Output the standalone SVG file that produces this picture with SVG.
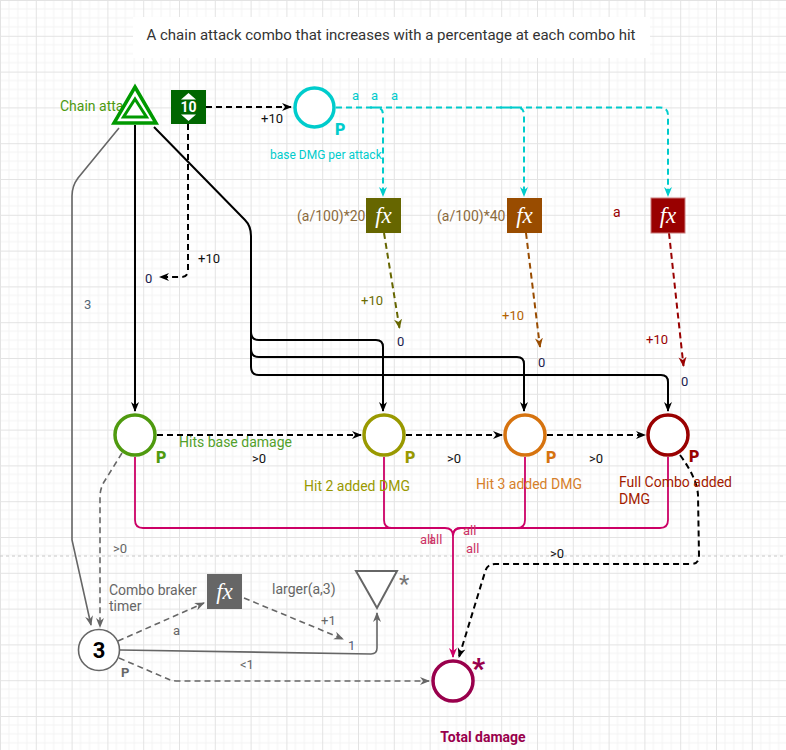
<svg xmlns="http://www.w3.org/2000/svg" width="786" height="750" viewBox="0 0 786 750">
<defs>
<pattern id="grid" width="35.8" height="35.8" patternUnits="userSpaceOnUse">
<path d="M8.95,0 V35.8 M17.9,0 V35.8 M26.85,0 V35.8 M0,8.95 H35.8 M0,17.9 H35.8 M0,26.85 H35.8" stroke="#f3f3f3" stroke-width="1" fill="none"/>
<path d="M0.5,0 V35.8 M0,0.5 H35.8" stroke="#e3e3e3" stroke-width="1" fill="none"/>
</pattern>
<marker id="aBlack" viewBox="0 0 10 10" refX="9" refY="5" markerWidth="10" markerHeight="10" markerUnits="userSpaceOnUse" orient="auto"><path d="M0,1 L10,5 L0,9 L3,5 z" fill="#000"/></marker>
<marker id="aGray" viewBox="0 0 10 10" refX="9" refY="5" markerWidth="10" markerHeight="10" markerUnits="userSpaceOnUse" orient="auto"><path d="M0,1 L10,5 L0,9 L3,5 z" fill="#666"/></marker>
<marker id="aCyan" viewBox="0 0 10 10" refX="9" refY="5" markerWidth="10" markerHeight="10" markerUnits="userSpaceOnUse" orient="auto"><path d="M0,1 L10,5 L0,9 L3,5 z" fill="#00cccc"/></marker>
<marker id="aOlive" viewBox="0 0 10 10" refX="9" refY="5" markerWidth="10" markerHeight="10" markerUnits="userSpaceOnUse" orient="auto"><path d="M0,1 L10,5 L0,9 L3,5 z" fill="#666600"/></marker>
<marker id="aBrown" viewBox="0 0 10 10" refX="9" refY="5" markerWidth="10" markerHeight="10" markerUnits="userSpaceOnUse" orient="auto"><path d="M0,1 L10,5 L0,9 L3,5 z" fill="#994c00"/></marker>
<marker id="aRed" viewBox="0 0 10 10" refX="9" refY="5" markerWidth="10" markerHeight="10" markerUnits="userSpaceOnUse" orient="auto"><path d="M0,1 L10,5 L0,9 L3,5 z" fill="#990000"/></marker>
<marker id="aPink" viewBox="0 0 10 10" refX="9" refY="5" markerWidth="10" markerHeight="10" markerUnits="userSpaceOnUse" orient="auto"><path d="M0,1 L10,5 L0,9 L3,5 z" fill="#cc0066"/></marker>
<style>
text { font-family: Roboto, "Liberation Sans", sans-serif; }
.lbl { font-size: 14px; }
.sm { font-size: 13px; }
.dk { fill: #111; }
.fx { font-family: "Liberation Serif", serif; font-style: italic; font-size: 23px; fill: #fff; }
.pmark { font-size: 16px; font-weight: 900; }
.conn { fill: none; }
.dash { stroke-dasharray: 6 4; }
.blk { stroke: #000; stroke-width: 2; }
.gry { stroke: #666; stroke-width: 1.6; }
.cy { stroke: #00cccc; stroke-width: 2; }
.pk { stroke: #cc0066; stroke-width: 1.8; }
.pool { fill: #fff; stroke-width: 3.5; }
</style>
</defs>
<rect x="0" y="0" width="786" height="750" fill="#fff"/>
<rect x="0" y="0" width="786" height="750" fill="url(#grid)"/>
<line x1="0" y1="556" x2="786" y2="556" stroke="#c8c8c8" stroke-width="1" stroke-dasharray="3 3"/>
<rect x="133" y="17" width="517" height="41" fill="#fff"/>
<text x="391" y="40" text-anchor="middle" font-size="15" fill="#333">A chain attack combo that increases with a percentage at each combo hit</text>

<g id="connectors">
<path class="conn blk dash" d="M206,107 L291,107" marker-end="url(#aBlack)"/>
<text class="sm dk" x="261" y="123">+10</text>
<path class="conn blk dash" d="M188,124 L188,270 Q188,277 181,277 L160,277" marker-end="url(#aBlack)"/>
<text class="sm dk" x="198" y="263">+10</text>
<text class="sm" x="145" y="283" fill="#1a1a4d">0</text>
<path class="conn cy dash" d="M336,107.5 L660,107.5 Q668,107.5 668,115 L668,196" marker-end="url(#aCyan)"/>
<path class="conn cy dash" d="M370,107.5 L376,107.5 Q383,107.5 383,115 L383,196" marker-end="url(#aCyan)"/>
<path class="conn cy dash" d="M500,107.5 L517,107.5 Q524,107.5 524,115 L524,196" marker-end="url(#aCyan)"/>
<text class="sm" x="352" y="100" fill="#00cccc">a</text>
<text class="sm" x="371" y="100" fill="#00cccc">a</text>
<text class="sm" x="391" y="100" fill="#00cccc">a</text>
<path class="conn dash" stroke="#666600" stroke-width="2" d="M384,233 L399.5,328" marker-end="url(#aOlive)"/>
<text class="sm" x="361" y="305" fill="#6b6b00">+10</text>
<text class="sm" x="397" y="346" fill="#1a1a4d">0</text>
<path class="conn dash" stroke="#994c00" stroke-width="2" d="M526,233 L540,347" marker-end="url(#aBrown)"/>
<text class="sm" x="502" y="320" fill="#b36200">+10</text>
<text class="sm" x="538" y="367" fill="#1a1a4d">0</text>
<path class="conn dash" stroke="#990000" stroke-width="2" d="M669,233 L683.5,366" marker-end="url(#aRed)"/>
<text class="sm" x="646" y="344" fill="#990000">+10</text>
<text class="sm" x="681" y="386" fill="#1a1a4d">0</text>
<path class="conn blk" d="M135,125 L135,411" marker-end="url(#aBlack)"/>
<path class="conn blk" d="M154,127 L245,220 Q251,226 251,236 L251,332 Q251,340 259,340 L376,340 Q383,340 383,347 L383,411" marker-end="url(#aBlack)"/>
<path class="conn blk" d="M251,332 L251,349 Q251,357 259,357 L517,357 Q524,357 524,364 L524,411" marker-end="url(#aBlack)"/>
<path class="conn blk" d="M251,349 L251,367 Q251,375 259,375 L661,375 Q668,375 668,382 L668,411" marker-end="url(#aBlack)"/>
<path class="conn gry" d="M119,128 L78,178 Q72,186 72,196 L72,540 L91,625" marker-end="url(#aGray)"/>
<text class="sm" x="84" y="309" fill="#556677">3</text>
<path class="conn gry dash" d="M122,453 L104,482 Q100,489 100,497 L100,627" marker-end="url(#aGray)"/>
<text class="sm" x="113" y="553" fill="#666">&gt;0</text>
<path class="conn blk dash" d="M157,435 L361,435" marker-end="url(#aBlack)"/>
<text class="sm dk" x="252" y="463">&gt;0</text>
<path class="conn blk dash" d="M406,435 L502,435" marker-end="url(#aBlack)"/>
<text class="sm dk" x="447" y="463">&gt;0</text>
<path class="conn blk dash" d="M547,435 L645,435" marker-end="url(#aBlack)"/>
<text class="sm dk" x="589" y="463">&gt;0</text>
<path class="conn pk" d="M135,457 L135,520 Q135,528 143,528 L445,528 Q453,528 453,536 L453,657" marker-end="url(#aPink)"/>
<path class="conn pk" d="M384,457 L384,520 Q384,528 392,528 L445,528"/>
<path class="conn pk" d="M525,457 L525,520 Q525,528 517,528 L461,528 Q453,528 453,536"/>
<path class="conn pk" d="M668,457 L668,520 Q668,528 660,528 L461,528 Q453,528 453,536"/>
<text class="sm" x="420" y="544" fill="#cc3366">all</text>
<text class="sm" x="429" y="544" fill="#cc3366">all</text>
<text class="sm" x="463" y="535" fill="#cc3366">all</text>
<text class="sm" x="466" y="553" fill="#cc3366">all</text>
<path class="conn blk dash" d="M680,455 Q697,478 698,495 L699,556 Q699,564 691,564 L495,564 Q487,564 485,572 L459,657" marker-end="url(#aBlack)"/>
<text class="sm dk" x="550" y="558">&gt;0</text>
<path class="conn gry dash" d="M118,641 L204,603" marker-end="url(#aGray)"/>
<text class="sm" x="173" y="635" fill="#666">a</text>
<path class="conn gry dash" d="M244,598 L343,639" marker-end="url(#aGray)"/>
<text class="sm" x="321" y="625" fill="#666">+1</text>
<text class="sm" x="348" y="650" fill="#55607a">1</text>
<path class="conn gry" d="M120,650 L371,654 Q377,654 377,648 L377,613" marker-end="url(#aGray)"/>
<text class="sm" x="240" y="669" fill="#666">&lt;1</text>
<path class="conn gry dash" d="M119,658 L168,679 Q172,681 178,681 L429,681" marker-end="url(#aGray)"/>
</g>

<g id="chain-attack">
<text class="lbl" x="60" y="111" fill="#4d9a0f">Chain attack</text>
<polygon points="135,87 156,123 114,123" fill="#fff" stroke="#009900" stroke-width="3.5" stroke-linejoin="miter"/>
<polygon points="135,99 146.5,117 123.5,117" fill="#fff" stroke="#009900" stroke-width="3"/>
</g>

<g id="counter-10">
<rect x="171" y="90" width="35" height="34" fill="#006600"/>
<polygon points="188.5,93 196,99.5 181,99.5" fill="#fff"/>
<polygon points="188.5,121 196,114.5 181,114.5" fill="#fff"/>
<text x="188.5" y="112" text-anchor="middle" font-size="14" font-weight="bold" fill="#fff">10</text>
</g>

<g id="base-dmg">
<circle cx="314.5" cy="107.5" r="19.5" class="pool" stroke="#00cccc"/>
<text class="pmark" x="335" y="135" fill="#00cccc">P</text>
<text x="270" y="159" font-size="12" fill="#00cccc">base DMG per attack</text>
</g>

<g id="fx1">
<text class="lbl" x="297" y="221" fill="#8b6b3d">(a/100)*20</text>
<rect x="366" y="198" width="35" height="35" fill="#666600"/>
<text class="fx" x="383.5" y="223" text-anchor="middle">fx</text>
</g>
<g id="fx2">
<text class="lbl" x="437" y="221" fill="#8b6b3d">(a/100)*40</text>
<rect x="507" y="198" width="35" height="35" fill="#994c00"/>
<text class="fx" x="524.5" y="223" text-anchor="middle">fx</text>
</g>
<g id="fx3">
<text class="lbl" x="613" y="217" fill="#990000">a</text>
<rect x="651" y="198" width="34" height="35" fill="#990000" stroke="#c97a7a" stroke-width="1"/>
<text class="fx" x="668" y="223" text-anchor="middle">fx</text>
</g>

<g id="hits-base">
<circle cx="135" cy="435" r="20" class="pool" stroke="#4f9a0f"/>
<text class="pmark" x="156" y="463" fill="#4f9a0f">P</text>
<text class="lbl" x="179" y="447" fill="#52a02a">Hits base damage</text>
</g>
<g id="hit2">
<circle cx="384" cy="435" r="20" class="pool" stroke="#999900"/>
<text class="pmark" x="405" y="463" fill="#999900">P</text>
<text class="lbl" x="304" y="491" fill="#999900">Hit 2 added DMG</text>
</g>
<g id="hit3">
<circle cx="525" cy="435" r="20" class="pool" stroke="#d6730f"/>
<text class="pmark" x="546" y="463" fill="#d6730f">P</text>
<text class="lbl" x="476" y="489" fill="#d6802a">Hit 3 added DMG</text>
</g>
<g id="full-combo">
<circle cx="668" cy="435" r="20" class="pool" stroke="#990000"/>
<text class="pmark" x="689" y="462" fill="#990000">P</text>
<text class="lbl" x="619" y="487" fill="#a31a00">Full Combo added</text>
<text class="lbl" x="619" y="504" fill="#a31a00">DMG</text>
</g>

<g id="timer">
<circle cx="99" cy="650" r="20.5" fill="#fff" stroke="#666" stroke-width="1.6"/>
<text x="99" y="658" text-anchor="middle" font-size="22" font-weight="bold" fill="#000">3</text>
<text x="121" y="677" font-size="13" font-weight="bold" fill="#666">P</text>
<text class="lbl" x="109" y="595" fill="#666">Combo braker</text>
<text class="lbl" x="109" y="611" fill="#666">timer</text>
</g>

<g id="fx-timer">
<rect x="207" y="574" width="35" height="35" fill="#666"/>
<text class="fx" x="224.5" y="599" text-anchor="middle">fx</text>
<text class="lbl" x="272" y="594" fill="#666">larger(a,3)</text>
</g>

<g id="end-gate">
<polygon points="356,571 397,571 377,608" fill="#fff" stroke="#666" stroke-width="2" stroke-linejoin="miter"/>
<text x="399" y="592" font-size="24" fill="#777">*</text>
</g>

<g id="total-damage">
<circle cx="453" cy="681" r="20" class="pool" stroke="#99004c" stroke-width="4"/>
<text x="472" y="678" font-size="28" font-weight="900" fill="#99004c">*</text>
<text x="483" y="742" text-anchor="middle" font-size="14" font-weight="bold" fill="#99004c">Total damage</text>
</g>
</svg>
